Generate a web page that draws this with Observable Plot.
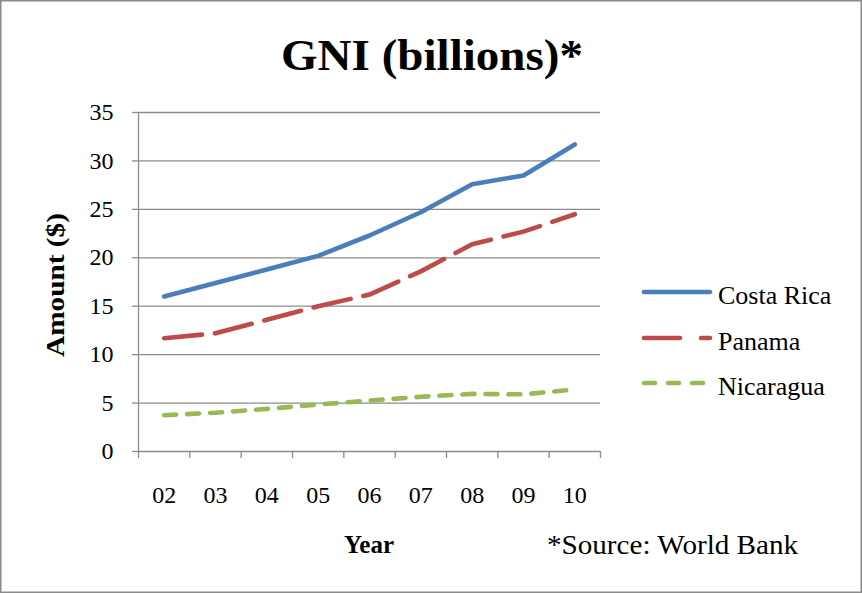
<!DOCTYPE html>
<html>
<head>
<meta charset="utf-8">
<script src="https://cdn.jsdelivr.net/npm/d3@7"></script>
<script src="https://cdn.jsdelivr.net/npm/@observablehq/plot@0.6"></script>
<style>
  html, body { margin: 0; padding: 0; background: white; }
  #chart { width: 862px; height: 593px; }
</style>
</head>
<body>
<div id="chart"></div>
<script>
// ---- Data ----
const years = [2002, 2003, 2004, 2005, 2006, 2007, 2008, 2009, 2010];
const yearLabels = ["02", "03", "04", "05", "06", "07", "08", "09", "10"];
const costaRica = [16.0, 17.4, 18.8, 20.2, 22.3, 24.7, 27.6, 28.5, 31.7];
const panama    = [11.7, 12.2, 13.6, 15.0, 16.2, 18.6, 21.4, 22.7, 24.5];
const nicaragua = [3.75, 4.0, 4.4, 4.85, 5.25, 5.65, 5.95, 5.9, 6.4];
const yTicks = [0, 5, 10, 15, 20, 25, 30, 35];
const seriesNames = ["Costa Rica", "Panama", "Nicaragua"];
const seriesColors = ["#4a7ebb", "#be4b48", "#98b954"];
const seriesDash = [null, "38,13", "12,11"];
const legendDash = [null, "36,21", "11,13"];

const seriesValues = [costaRica, panama, nicaragua];
const rows = [];
seriesNames.forEach((name, i) => {
  years.forEach((yr, j) => rows.push({series: name, year: yr, value: seriesValues[i][j]}));
});
const boundaries = years.map(y => y - 0.5).concat([years[years.length - 1] + 0.5]);
const labelOf = new Map(years.map((y, i) => [y, yearLabels[i]]));

const font = "Liberation Serif, Times New Roman, serif";
const gridColor = "#8c8c8c";

const plot = Plot.plot({
  width: 862,
  height: 593,
  marginLeft: 138,
  marginRight: 262,
  marginTop: 112,
  marginBottom: 142,
  style: {fontFamily: font, fontSize: "24px", background: "white", color: "black"},
  x: {type: "linear", domain: [boundaries[0], boundaries[boundaries.length - 1]]},
  y: {domain: [0, 35]},
  marks: [
    Plot.gridY(yTicks.filter(d => d > 0), {stroke: gridColor, strokeOpacity: 1, strokeWidth: 1.3}),
    Plot.axisY({ticks: yTicks, tickSize: 6, tickPadding: 19, stroke: gridColor, strokeWidth: 1.3, label: null, fontSize: 24, fill: "black"}),
    Plot.axisX({ticks: years, tickSize: 0, tickPadding: 34, tickFormat: d => labelOf.get(d), label: null, fontSize: 24, fill: "black"}),
    Plot.axisX({ticks: boundaries, tickSize: 7, tickFormat: () => "", label: null, stroke: gridColor, strokeWidth: 1.3}),
    Plot.ruleY([0], {stroke: gridColor, strokeWidth: 1.3}),
    Plot.ruleX([boundaries[0]], {stroke: gridColor, strokeWidth: 1.3}),
    ...seriesNames.map((name, i) => Plot.lineY(rows.filter(r => r.series === name), {
      x: "year", y: "value",
      stroke: seriesColors[i], strokeWidth: 4.6,
      strokeDasharray: seriesDash[i], strokeLinecap: "round", strokeLinejoin: "round"
    }))
  ]
});

document.getElementById("chart").appendChild(plot);

const svg = d3.select(plot);
// outer frame
svg.append("rect").attr("x", 0.75).attr("y", 0.75).attr("width", 860.5).attr("height", 591.5)
  .attr("fill", "none").attr("stroke", "#8a8a8a").attr("stroke-width", 1.5);

// title
svg.append("text").attr("x", 432).attr("y", 70).attr("text-anchor", "middle")
  .attr("font-family", font).attr("font-weight", "bold").attr("font-size", 44).attr("fill", "black")
  .attr("textLength", 302).attr("lengthAdjust", "spacingAndGlyphs")
  .text("GNI (billions)*");

// y label
svg.append("text").attr("transform", "translate(64,285) rotate(-90)").attr("text-anchor", "middle")
  .attr("font-family", font).attr("font-weight", "bold").attr("font-size", 25).attr("fill", "black")
  .attr("textLength", 144).attr("lengthAdjust", "spacingAndGlyphs")
  .text("Amount ($)");

// x label
svg.append("text").attr("x", 369).attr("y", 553).attr("text-anchor", "middle")
  .attr("font-family", font).attr("font-weight", "bold").attr("font-size", 25).attr("fill", "black")
  .text("Year");

// source
svg.append("text").attr("x", 547).attr("y", 554).attr("text-anchor", "start")
  .attr("font-family", font).attr("font-size", 27).attr("fill", "black")
  .attr("textLength", 251).attr("lengthAdjust", "spacingAndGlyphs")
  .text("*Source: World Bank");

// legend
const legendY = [292, 338, 383];
seriesNames.forEach((name, i) => {
  const g = svg.append("g");
  g.append("line").attr("x1", 644).attr("x2", 710).attr("y1", legendY[i]).attr("y2", legendY[i])
    .attr("stroke", seriesColors[i]).attr("stroke-width", 4.6).attr("stroke-linecap", "round")
    .attr("stroke-dasharray", legendDash[i]);
  g.append("text").attr("x", 718).attr("y", legendY[i] + 12).attr("text-anchor", "start")
    .attr("font-family", font).attr("font-size", 26).attr("fill", "black").text(name);
});
</script>
</body>
</html>
